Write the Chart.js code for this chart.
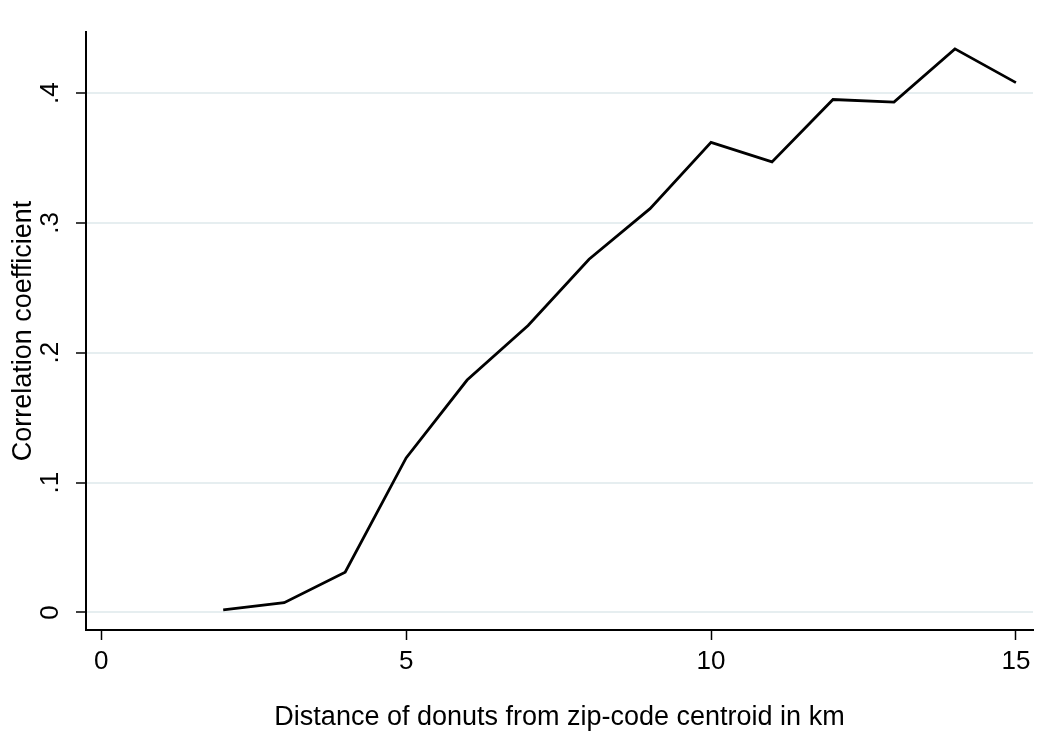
<!DOCTYPE html>
<html lang="en">
<head>
    <meta charset="UTF-8">
    <title>Correlation coefficient</title>
    <script src="https://cdn.jsdelivr.net/npm/chart.js"></script>
    <style>
        body { margin: 0; background: #fff; }
        #myChart { display: block; }
    </style>
</head>
<body>
    <canvas id="myChart" width="1059" height="736"></canvas>
<script>
    // distance (km) and correlation
    var distancia = [2, 3, 4, 5, 6, 7, 8, 9, 10, 11, 12, 13, 14, 15]
    var correlacao = [0.002, 0.0075, 0.031, 0.119, 0.179, 0.221, 0.272, 0.311, 0.362, 0.347, 0.395, 0.393, 0.434, 0.408]

    var xTicks = [0, 5, 10, 15]
    var yTicks = [0, 0.1, 0.2, 0.3, 0.4]
    var yTickLabels = ['0', '.1', '.2', '.3', '.4']

    var pontos = distancia.map(function (d, i) {
        return { x: d, y: correlacao[i] }
    })

    var fonte = 'Liberation Sans, Arial, sans-serif'

    var data = {
        datasets: [{
            label: 'Correlation coefficient',
            data: pontos,
            borderColor: '#000',
            borderWidth: 2.8,
            pointRadius: 0,
            tension: 0,
            fill: false
        }]
    }

    var config = {
        type: 'line',
        data: data,
        options: {
            responsive: false,
            animation: false,
            layout: { padding: { top: 32, right: 26, left: 0, bottom: 0 } },
            plugins: {
                legend: { display: false },
                tooltip: { enabled: false }
            },
            scales: {
                x: {
                    type: 'linear',
                    min: -0.25,
                    max: 15.28,
                    afterBuildTicks: function (scale) {
                        scale.ticks = xTicks.map(function (v) { return { value: v } })
                    },
                    afterFit: function (scale) { scale.height = 106 },
                    grid: {
                        drawOnChartArea: false,
                        tickColor: '#000',
                        tickLength: 10,
                        tickWidth: 1.5
                    },
                    border: { color: '#000', width: 2 },
                    ticks: {
                        color: '#000',
                        padding: 6,
                        maxRotation: 0,
                        font: { family: fonte, size: 26 }
                    },
                    title: {
                        display: true,
                        text: 'Distance of donuts from zip-code centroid in km',
                        color: '#000',
                        padding: { top: 0, bottom: 2 },
                        font: { family: fonte, size: 27 }
                    }
                },
                y: {
                    type: 'linear',
                    min: -0.0135,
                    max: 0.447,
                    afterBuildTicks: function (scale) {
                        scale.ticks = yTicks.map(function (v) { return { value: v } })
                    },
                    afterFit: function (scale) { scale.width = 86 },
                    grid: {
                        color: '#e6eef0',
                        lineWidth: 2,
                        tickColor: '#000',
                        tickLength: 10,
                        tickWidth: 1.5
                    },
                    border: { color: '#000', width: 2 },
                    ticks: {
                        color: '#000',
                        padding: 14,
                        minRotation: 90,
                        maxRotation: 90,
                        crossAlign: 'center',
                        font: { family: fonte, size: 26 },
                        callback: function (value) {
                            var i = yTicks.indexOf(value)
                            return i >= 0 ? yTickLabels[i] : ''
                        }
                    },
                    title: {
                        display: true,
                        text: 'Correlation coefficient',
                        color: '#000',
                        padding: { top: 7, bottom: 0 },
                        font: { family: fonte, size: 27 }
                    }
                }
            }
        }
    }

    var myChart = new Chart(document.getElementById('myChart'), config)
</script>
</body>
</html>
